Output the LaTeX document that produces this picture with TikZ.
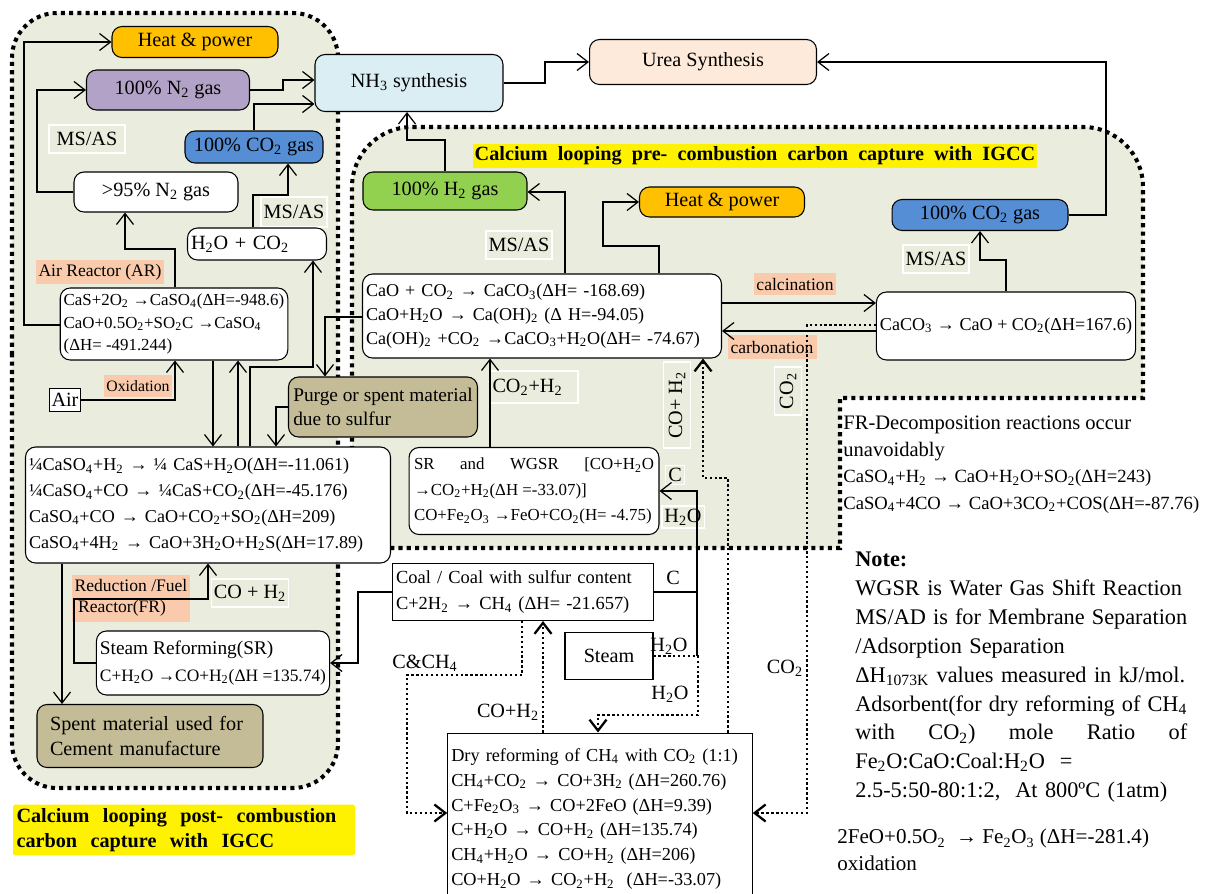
\documentclass[tikz,border=0pt]{standalone}
\usepackage{fontspec}
\setmainfont{Liberation Serif}
\usetikzlibrary{arrows.meta}

\definecolor{panel}{HTML}{EAEDDE}
\definecolor{orangebox}{HTML}{FFC000}
\definecolor{purplebox}{HTML}{B3A2C7}
\definecolor{bluebox}{HTML}{558ED5}
\definecolor{greenbox}{HTML}{92D050}
\definecolor{skybox}{HTML}{DBEEF4}
\definecolor{peachbox}{HTML}{FDEADA}
\definecolor{salmon}{HTML}{F9CBAC}
\definecolor{tanbox}{HTML}{C4BC96}

\newcommand{\lo}[1]{\textsubscript{#1}}
\newcommand{\eqfont}{\fontsize{10.3}{13.5}\selectfont}

\begin{document}
\begin{tikzpicture}[x=0.02cm, y=-0.02cm,
  >={Straight Barb[length=2.2mm,width=3.4mm]},
  font=\fontsize{11.5}{14}\selectfont,
  box/.style={draw, rounded corners=2mm, line width=0.6pt, inner sep=2pt},
  sqbox/.style={draw, line width=0.6pt, inner sep=2pt},
  lbl/.style={draw=white, line width=0.8pt, inner sep=1.5pt},
  tagbox/.style={fill=salmon, inner sep=1.5pt, font=\fontsize{10}{12}\selectfont},
  region/.style={fill=panel, line width=2.3pt, dash pattern=on 2.3pt off 2.4pt},
  flow/.style={->, line width=0.7pt},
  dflow/.style={->, line width=1.3pt, dash pattern=on 1.3pt off 1.5pt}]
  \useasboundingbox (0,0) rectangle (1207,893);

  % Dotted regions
  \draw[region] (12,400) [rounded corners=0.9cm] -- (12,13) -- (338,13) -- (338,788) -- (12,788) -- cycle;
  \draw[region] (352,340) [rounded corners=1.2cm] -- (352,127) -- (1143,127) -- (1143,250)
    [sharp corners] -- (1143,398) -- (840,398) -- (840,548) -- (352,548) -- cycle;

  % Post-combustion side
  \node[box, fill=orangebox, minimum width=3.32cm, minimum height=0.62cm] (heatL) at (195,42) {Heat \& power};
  \node[box, fill=purplebox, minimum width=3.26cm, minimum height=0.8cm] (n2) at (168,90) {100\% N\lo{2} gas};
  \node[lbl, minimum width=1.52cm, minimum height=0.56cm] (msasA) at (87,139) {MS/AS};
  \node[box, fill=bluebox, minimum width=2.76cm, minimum height=0.64cm] (co2L) at (254,147) {100\% CO\lo{2} gas};
  \node[box, fill=white, minimum width=3.28cm, minimum height=0.8cm] (n95) at (156,192) {>95\% N\lo{2} gas};
  \node[lbl, minimum width=1.24cm, minimum height=0.6cm] (msasB) at (294,212) {MS/AS};
  \node[box, fill=white, minimum height=0.64cm, text width=2.64cm, align=left] (h2oco2) at (257,244) {H\lo{2}O + CO\lo{2}};
  \node[tagbox, minimum width=2.52cm, minimum height=0.48cm] (arTag) at (100,272) {Air Reactor (AR)};
  \node[box, fill=white, align=left, minimum width=4.48cm, minimum height=1.44cm, font=\fontsize{9.6}{13}\selectfont] (ar) at (174,324)
    {CaS+2O\lo{2} →CaSO\lo{4}(ΔH=-948.6)\\CaO+0.5O\lo{2}+SO\lo{2}C →CaSO\lo{4}\\(ΔH= -491.244)};
  \node[tagbox, minimum width=1.24cm, minimum height=0.44cm, font=\fontsize{9}{11}\selectfont] (oxTag) at (138,386) {Oxidation};
  \node[sqbox, fill=white, minimum width=0.62cm, minimum height=0.46cm, inner sep=1pt] (air) at (65,400) {Air};
  \node[box, fill=tanbox, align=left, minimum width=3.78cm, minimum height=1.2cm, font=\fontsize{11}{14}\selectfont] (purge) at (383,407)
    {Purge or spent material\\due to sulfur};
  \node[box, fill=white, text width=7.16cm, align=left, minimum height=2.32cm, font=\fontsize{10.3}{14.7}\selectfont] (fr) at (208,505)
    {¼CaSO\lo{4}+H\lo{2} → ¼ CaS+H\lo{2}O(ΔH=-11.061)\\
     ¼CaSO\lo{4}+CO → ¼CaS+CO\lo{2}(ΔH=-45.176)\\
     CaSO\lo{4}+CO → CaO+CO\lo{2}+SO\lo{2}(ΔH=209)\\
     CaSO\lo{4}+4H\lo{2} → CaO+3H\lo{2}O+H\lo{2}S(ΔH=17.89)};
  \node[tagbox, align=left, minimum width=2.26cm, minimum height=0.94cm] (frTag) at (131,598) {Reduction /Fuel\\\hspace{2pt}Reactor(FR)};
  \node[lbl, minimum width=1.5cm, minimum height=0.56cm] (coh2A) at (250,593) {CO + H\lo{2}};
  \node[box, fill=white, align=left, minimum width=4.54cm, minimum height=1.28cm, font=\fontsize{11}{15}\selectfont] (sr) at (213,663)
    {Steam Reforming(SR)\\{\fontsize{9.9}{12}\selectfont C+H\lo{2}O →CO+H\lo{2}(ΔH =135.74)}};
  \node[box, fill=tanbox, text width=4.0cm, align=left, minimum width=4.52cm, minimum height=1.26cm] (spent) at (150,736)
    {Spent material used for\\Cement manufacture};
  \node[fill=yellow, text width=6.7cm, align=left, inner sep=2pt, rounded corners=1pt,
    font=\bfseries\fontsize{11.5}{14.5}\selectfont] (postTag) at (184,830)
    {Calcium\ \ looping\ \ post-\ \ combustion\\carbon\ \ capture\ \ with\ \ IGCC};

  % Ammonia and urea
  \node[box, fill=skybox, minimum width=3.76cm, minimum height=1.14cm] (nh3) at (409,83) {NH\lo{3} synthesis};
  \node[box, fill=peachbox, minimum width=4.54cm, minimum height=0.9cm] (urea) at (703,62) {Urea Synthesis};

  % Pre-combustion side
  \node[fill=yellow, minimum width=11.14cm, minimum height=0.48cm, inner sep=1pt,
    font=\bfseries\fontsize{11.5}{14}\selectfont] (preTag) at (755,156)
    {Calcium\ \ looping\ \ pre-\ \ combustion\ \ carbon\ \ capture\ \ with\ \ IGCC};
  \node[box, fill=greenbox, minimum width=3.28cm, minimum height=0.76cm] (h2) at (445,191) {100\% H\lo{2} gas};
  \node[box, fill=orangebox, minimum width=3.3cm, minimum height=0.6cm] (heatR) at (722,202) {Heat \& power};
  \node[box, fill=bluebox, minimum width=3.52cm, minimum height=0.62cm] (co2R) at (980,215) {100\% CO\lo{2} gas};
  \node[lbl, minimum width=1.16cm, minimum height=0.56cm] (msasC) at (519,245) {MS/AS};
  \node[lbl, minimum width=1.24cm, minimum height=0.56cm] (msasD) at (936,259) {MS/AS};
  \node[box, fill=white, text width=7.04cm, align=left, minimum height=1.68cm, font=\fontsize{10.3}{13.6}\selectfont] (carb) at (542,316)
    {CaO + CO\lo{2} →\ CaCO\lo{3}(ΔH= -168.69)\\
     CaO+H\lo{2}O → Ca(OH)\lo{2} (Δ H=-94.05)\\
     Ca(OH)\lo{2} +CO\lo{2} →CaCO\lo{3}+H\lo{2}O(ΔH= -74.67)};
  \node[tagbox, minimum width=1.6cm, minimum height=0.44cm] (calcTag) at (795,284) {calcination};
  \node[tagbox, minimum width=1.78cm, minimum height=0.48cm] (carbTag) at (772,347) {carbonation};
  \node[box, fill=white, align=left, minimum width=5.02cm, minimum height=1.36cm, font=\eqfont] (calcbox) at (1006,326)
    {CaCO\lo{3} → CaO + CO\lo{2}(ΔH=167.6)};
  \node[lbl, text width=1.66cm, align=left, minimum height=0.64cm] (co2h2) at (534,387) {CO\lo{2}+H\lo{2}};
  \node[lbl, rotate=90, minimum width=1.72cm, minimum height=0.54cm] (coh2R) at (677,405) {CO+ H\lo{2}};
  \node[lbl, rotate=90, minimum width=0.96cm, minimum height=0.54cm] (co2V) at (788,391) {CO\lo{2}};
  \node[box, fill=white, align=left, minimum width=5.0cm, minimum height=1.74cm, font=\fontsize{9.6}{14.5}\selectfont] (wgsr) at (534,491)
    {\makebox[4.8cm][s]{SR\hfill and\hfill WGSR\hfill [CO+H\lo{2}O}\\
     →CO\lo{2}+H\lo{2}(ΔH =-33.07)]\\
     CO+Fe\lo{2}O\lo{3} →FeO+CO\lo{2}(H= -4.75)};
  \node[lbl] (cA) at (675,475) {C};
  \node[lbl] (h2oA) at (683,517) {H\lo{2}O};
  \node[anchor=north west, align=left, inner sep=0pt, font=\fontsize{11.7}{15}\selectfont] (decomp) at (843,416)
    {FR-Decomposition reactions occur\\unavoidably\\
     {\fontsize{10.6}{13}\selectfont CaSO\lo{4}+H\lo{2} → CaO+H\lo{2}O+SO\lo{2}(ΔH=243)}\\
     {\fontsize{10.6}{13}\selectfont CaSO\lo{4}+4CO → CaO+3CO\lo{2}+COS(ΔH=-87.76)}};

  % Coal, steam and dry reforming
  \node[sqbox, fill=white, text width=5.08cm, align=left, minimum height=1.14cm, font=\fontsize{10.5}{14.5}\selectfont] (coal) at (523,592)
    {Coal / Coal with sulfur content\\C+2H\lo{2} → CH\lo{4} (ΔH= -21.657)};
  \node (cB) at (673,578) {C};
  \node[sqbox, fill=white, minimum width=1.76cm, minimum height=0.94cm] (steam) at (609,656) {Steam};
  \node[inner sep=1pt] (h2oB) at (669,646) {H\lo{2}O};
  \node[inner sep=1pt] (h2oC) at (670,694) {H\lo{2}O};
  \node (cch4) at (425,663) {C\&CH\lo{4}};
  \node (coh2B) at (508,712) {CO+H\lo{2}};
  \node (co2B) at (785,668) {CO\lo{2}};
  \node[sqbox, fill=white, text width=5.95cm, align=left, minimum height=3.44cm, font=\fontsize{10.4}{14.2}\selectfont] (dry) at (600,819)
    {Dry reforming\ of CH\lo{4} with CO\lo{2} (1:1)\\
     CH\lo{4}+CO\lo{2} → CO+3H\lo{2} (ΔH=260.76)\\
     C+Fe\lo{2}O\lo{3} → CO+2FeO (ΔH=9.39)\\
     C+H\lo{2}O → CO+H\lo{2} (ΔH=135.74)\\
     CH\lo{4}+H\lo{2}O → CO+H\lo{2} (ΔH=206)\\
     CO+H\lo{2}O → CO\lo{2}+H\lo{2}\ \ (ΔH=-33.07)};

  % Notes
  \node[anchor=north west, text width=6.64cm, align=left, inner sep=0pt, font=\fontsize{12.7}{16.4}\selectfont] (note) at (855,552)
    {\textbf{Note:}\\
     WGSR is Water Gas Shift Reaction\\
     \makebox[6.64cm][s]{MS/AD\hfill is\hfill for\hfill Membrane\hfill Separation}\\
     /Adsorption Separation\\
     ΔH\lo{1073K} values measured in kJ/mol.\\
     \makebox[6.64cm][s]{Adsorbent(for\hfill dry\hfill reforming\hfill of\hfill CH\lo{4}}\\
     \makebox[6.64cm][s]{with\hfill CO\lo{2})\hfill mole\hfill Ratio\hfill of}\\
     Fe\lo{2}O:CaO:Coal:H\lo{2}O\ \ =\\
     2.5-5:50-80:1:2,\ \ At 800ºC (1atm)};
  \node[anchor=north west, align=left, inner sep=0pt, font=\fontsize{12}{15}\selectfont] (feox) at (837,829)
    {2FeO+0.5O\lo{2}\ \ → Fe\lo{2}O\lo{3} (ΔH=-281.4)\\oxidation};

  % Solid connectors
  \draw[flow] (ar.west |- 0,325) -- (24,325) -- (24,42) -- (heatL.west);
  \draw[flow] (n95.west) -- (37,192) -- (37,90) -- (n2.west);
  \draw[flow] (n2.east) -- (283,90) -- (283,80) -- (nh3.west |- 0,80);
  \draw[flow] (co2L.north) -- (254,104) -- (nh3.west |- 0,104);
  \draw[flow] (h2oco2.north -| 253,0) -- (253,195) -- (288,195) -- (co2L.south -| 288,0);
  \draw[flow] (ar.north -| 175,0) -- (175,249) -- (125,249) -- (n95.south -| 125,0);
  \draw[flow] (air.east) -- (175,400) -- (ar.south -| 175,0);
  \draw[flow] (ar.south -| 213,0) -- (fr.north -| 213,0);
  \draw[flow] (fr.north -| 238,0) -- (ar.south -| 238,0);
  \draw[flow] (fr.north -| 250,0) -- (250,367) -- (313,367) -- (h2oco2.south -| 313,0);
  \draw[flow] (carb.west |- 0,317) -- (325,317) -- (purge.north -| 325,0);
  \draw[flow] (purge.west) -- (276,407) -- (fr.north -| 276,0);
  \draw[flow] (fr.south -| 62,0) -- (spent.north -| 62,0);
  \draw[flow] (sr.west) -- (74,663) -- (74,599) -- (208,599) -- (fr.south -| 208,0);
  \draw[flow] (coal.west) -- (358,592) -- (358,663) -- (sr.east);
  \draw[flow] (nh3.east) -- (545,83) -- (545,62) -- (urea.west);
  \draw[flow] (co2R.east) -- (1106,215) -- (1106,62) -- (urea.east);
  \draw[flow] (calcbox.north) -- (1006,260) -- (980,260) -- (co2R.south);
  \draw[flow] (carb.east |- 0,303) -- (calcbox.west |- 0,303);
  \draw[flow] (calcbox.west |- 0,331) -- (carb.east |- 0,331);
  \draw[flow] (carb.north -| 565,0) -- (565,192) -- (h2.east |- 0,192);
  \draw[flow] (carb.north -| 659,0) -- (659,246) -- (603,246) -- (603,202) -- (heatR.west |- 0,202);
  \draw[flow] (h2.north) -- (445,140) -- (407,140) -- (nh3.south -| 407,0);
  \draw[flow] (wgsr.north -| 490,0) -- (carb.south -| 490,0);
  \draw[flow] (coal.east) -- (697,592) -- (697,491) -- (wgsr.east |- 0,491);
  \draw[line width=0.7pt] (697,592) -- (697,656);

  % Dotted connectors
  \draw[dflow] (coal.south -| 522,0) -- (522,675) -- (407,675) -- (407,813) -- (dry.west |- 0,813);
  \draw[dflow] (dry.north -| 543,0) -- (coal.south -| 543,0);
  \draw[dflow] (steam.east |- 0,656) -- (698,656) -- (698,715) -- (598,715) -- (dry.north -| 598,0);
  \draw[dflow] (dry.north -| 728,0) -- (728,478) -- (703,478) -- (carb.south -| 703,0);
  \draw[dflow] (calcbox.west |- 0,325) -- (807,325) -- (807,813) -- (dry.east |- 0,813);
\end{tikzpicture}
\end{document}
